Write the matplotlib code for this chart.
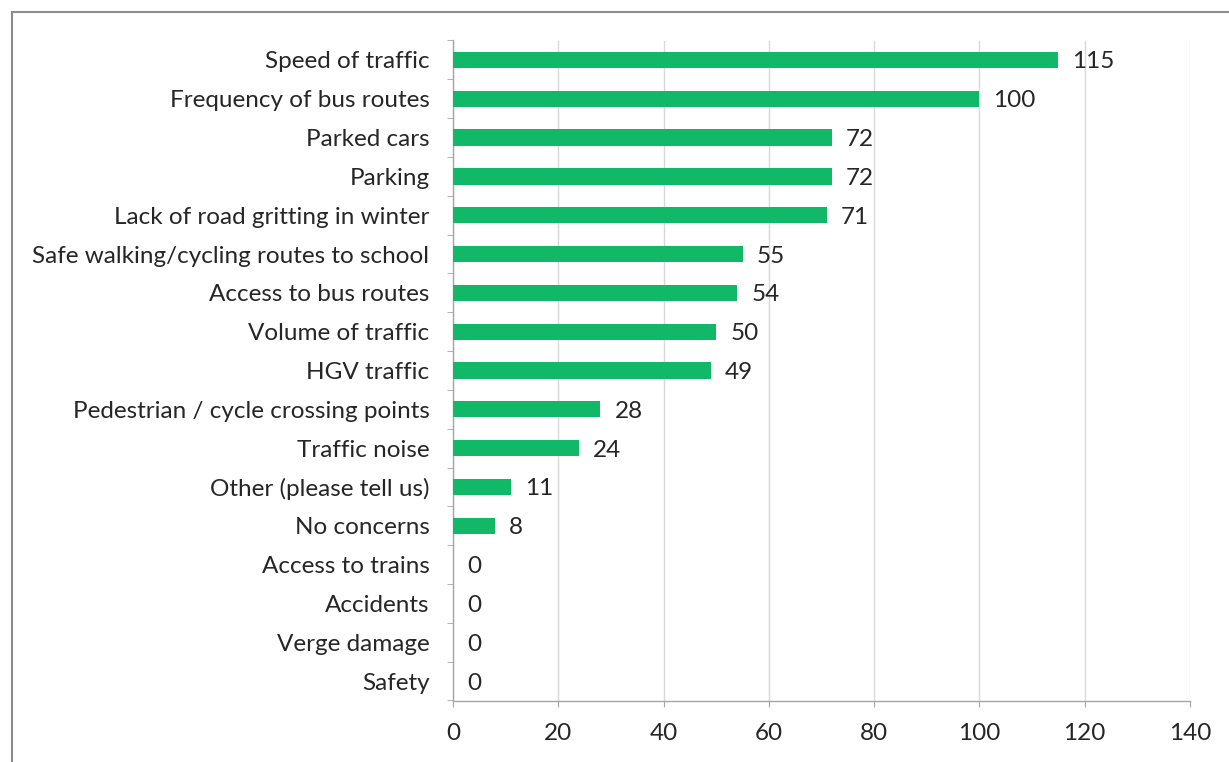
import matplotlib
matplotlib.use("Agg")
import matplotlib.pyplot as plt
from matplotlib.patches import Rectangle
import numpy as np

categories = ["Speed of traffic", "Frequency of bus routes", "Parked cars", "Parking",
              "Lack of road gritting in winter", "Safe walking/cycling routes to school",
              "Access to bus routes", "Volume of traffic", "HGV traffic",
              "Pedestrian / cycle crossing points", "Traffic noise", "Other (please tell us)",
              "No concerns", "Access to trains", "Accidents", "Verge damage", "Safety"]
values = [115, 100, 72, 72, 71, 55, 54, 50, 49, 28, 24, 11, 8, 0, 0, 0, 0]
xticks = [0, 20, 40, 60, 80, 100, 120, 140]

plt.rcParams['font.family'] = ['Lato', 'DejaVu Sans']
W, H = 1229, 762
fig = plt.figure(figsize=(W / 100, H / 100), dpi=100)
fig.patch.set_facecolor('white')

# outer chart border (left/top visible, right/bottom cropped)
fig.patches.append(Rectangle((12 / W, -0.1), 1.2, 1 - 12 / H + 0.1, transform=fig.transFigure,
                             fill=False, edgecolor='#8c8c8c', linewidth=1.5))

ax = fig.add_axes([453 / W, 1 - 700.5 / H, (1190 - 453) / W, (700.5 - 40.5) / H])
n = len(categories)
y = np.arange(n)
ax.barh(y, values, height=0.42, color='#10B868', zorder=3)
ax.set_ylim(n - 0.5, -0.5)
ax.set_xlim(0, 140)
ax.set_xticks(xticks)
ax.set_xticklabels([str(t) for t in xticks])
ax.set_yticks(y)
ax.set_yticklabels(categories)
ax.set_yticks(np.arange(n + 1) - 0.5, minor=True)

ax.grid(axis='x', color='#d9d9d9', linewidth=1.0, zorder=0)
ax.set_axisbelow(True)
for s in ['top', 'right']:
    ax.spines[s].set_visible(False)
for s in ['left', 'bottom']:
    ax.spines[s].set_color('#a6a6a6')
    ax.spines[s].set_linewidth(1.0)

txtcol = '#262626'
fs = 17.5
ax.tick_params(axis='y', which='major', length=0, pad=17, labelsize=fs, labelcolor=txtcol)
ax.tick_params(axis='y', which='minor', length=4, color='#a6a6a6', direction='out')
ax.tick_params(axis='x', which='major', length=4, color='#a6a6a6', pad=12, labelsize=fs,
               labelcolor=txtcol)

for yi, v in zip(y, values):
    ax.annotate(str(v), (v, yi), xytext=(14, -2), textcoords='offset pixels',
                va='center', ha='left', fontsize=fs, color=txtcol)

fig.savefig('out.png', dpi=100, facecolor='white')
